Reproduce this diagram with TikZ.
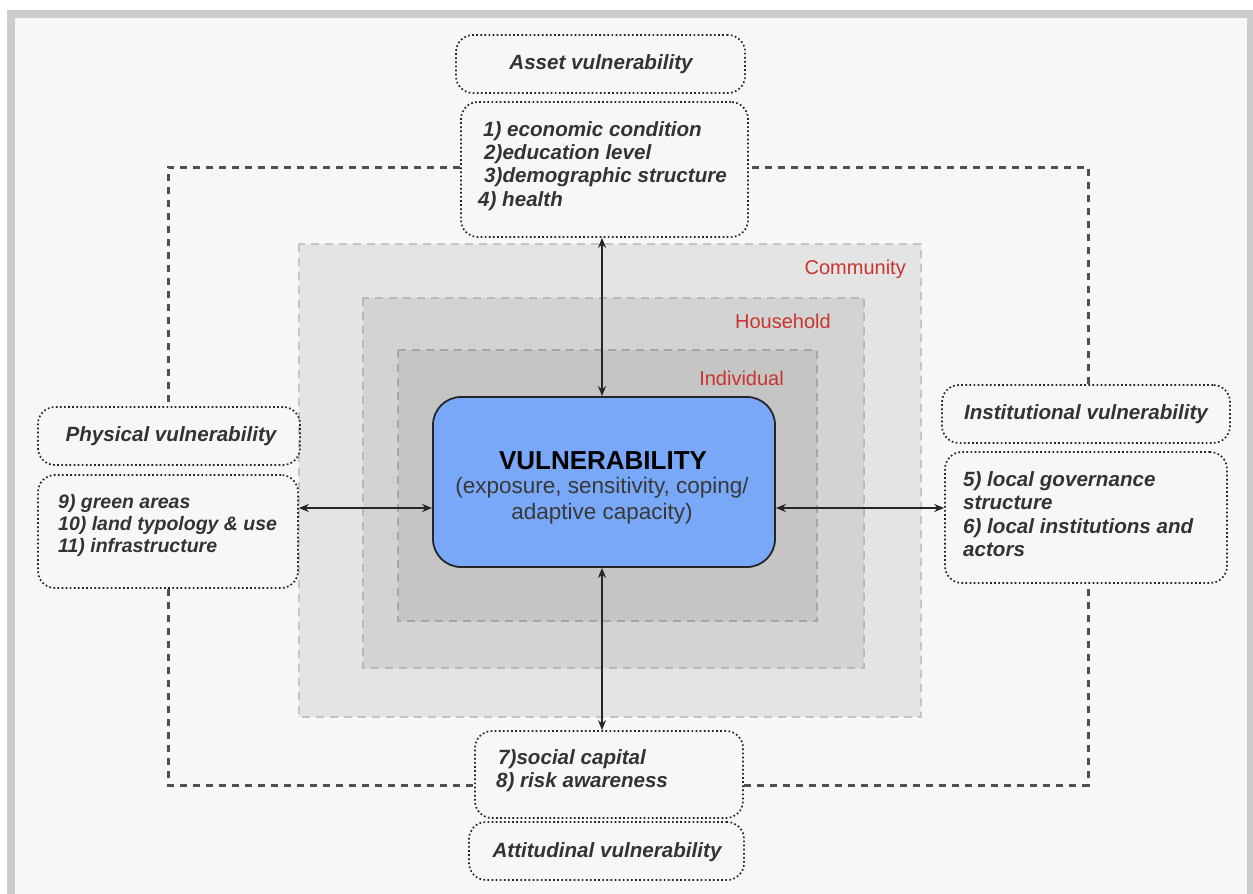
\documentclass[tikz,border=0pt]{standalone}
\usepackage{fontspec}
\newfontfamily\arial{Liberation Sans}
\usetikzlibrary{arrows.meta}
\definecolor{framegray}{HTML}{CCCCCC}
\definecolor{bggray}{HTML}{F7F7F7}
\definecolor{comfill}{HTML}{E4E4E4}
\definecolor{comdraw}{HTML}{C6C6C6}
\definecolor{houfill}{HTML}{D3D3D3}
\definecolor{houdraw}{HTML}{B8B8B8}
\definecolor{indfill}{HTML}{C5C5C5}
\definecolor{inddraw}{HTML}{A6A6A6}
\definecolor{vulnblue}{HTML}{78A8F7}
\definecolor{labelred}{HTML}{C8342F}
\definecolor{loopgray}{HTML}{505050}
\tikzset{
  dotbox/.style={draw=black!85, line width=1.7pt, dash pattern=on 1.7pt off 2.4pt,
    rounded corners=17pt, inner sep=0pt},
  boxtext/.style={font=\arial\bfseries\itshape\fontsize{20.6}{23.3}\selectfont,
    text=black!80, inner sep=0pt},
  layer/.style={line width=2.8pt, dash pattern=on 8pt off 6pt},
  layerlabel/.style={font=\arial\fontsize{20}{24}\selectfont, text=labelred, inner sep=0pt, anchor=base east},
  loopline/.style={draw=loopgray, line width=3pt, dash pattern=on 7pt off 6pt},
  biarrow/.style={draw=black!85, line width=1.8pt,
    {Stealth[length=10pt,width=8pt]}-{Stealth[length=10pt,width=8pt]}}
}
\begin{document}
\begin{tikzpicture}[x=1pt,y=-1pt]
\useasboundingbox (0,0) rectangle (1253,894);
% frame
\fill[white] (0,0) rectangle (1253,894);
\fill[framegray] (7,10) rectangle (1253,894);
\fill[bggray] (15,18) rectangle (1247,894);
% layers
\draw[layer, draw=comdraw, fill=comfill] (299,244) rectangle (921,717);
\draw[layer, draw=houdraw, fill=houfill] (363,298) rectangle (864,668);
\draw[layer, draw=inddraw, fill=indfill] (398,350) rectangle (817,621);
\node[layerlabel] (lcom) at (906,274) {Community};
\node[layerlabel] (lhou) at (831,328) {Household};
\node[layerlabel] (lind) at (784,385) {Individual};
% central box
\node[draw=black!85, line width=1.8pt, fill=vulnblue, rounded corners=28pt,
  minimum width=342pt, minimum height=170pt, inner sep=0pt] (vuln) at (604,482) {};
\node[font=\arial\bfseries\fontsize{26}{30}\selectfont, inner sep=0pt] (vt) at (603,461) {VULNERABILITY};
\node[font=\arial\fontsize{22.5}{26}\selectfont, text=black!78, align=center, inner sep=0pt] (vs) at (602,501)
  {(exposure, sensitivity, coping/\\adaptive capacity)};
% asset
\node[dotbox, minimum width=289pt, minimum height=58pt] (asset) at (600.5,64) {};
\node[boxtext] (assett) at (601,64) {Asset vulnerability};
\node[dotbox, minimum width=287pt, minimum height=135pt] (assetitems) at (604.5,169.5) {};
\node[boxtext, align=left, anchor=west] (assetit) at (478,166)
  {\hspace*{5pt}1) economic condition\\\hspace*{6pt}2)education level\\\hspace*{6pt}3)demographic structure\\4) health};
% physical
\node[dotbox, minimum width=262pt, minimum height=58pt] (phys) at (169,436) {};
\node[boxtext] (physt) at (171,436) {Physical vulnerability};
\node[dotbox, minimum width=260pt, minimum height=113pt] (physitems) at (168,531.5) {};
\node[boxtext, align=left, anchor=west, font=\arial\bfseries\itshape\fontsize{19.5}{22}\selectfont] (physit) at (58,525)
  {9) green areas\\10) land typology \& use\\11) infrastructure};
% institutional
\node[dotbox, minimum width=288pt, minimum height=58pt] (inst) at (1086,414) {};
\node[boxtext] (instt) at (1086,414) {Institutional vulnerability};
\node[dotbox, minimum width=282pt, minimum height=131pt] (institems) at (1086,517.5) {};
\node[boxtext, align=left, anchor=west] (instit) at (963,514)
  {5) local governance\\structure\\6) local institutions and\\actors};
% social / attitudinal
\node[dotbox, minimum width=268pt, minimum height=87pt] (social) at (609,774.5) {};
\node[boxtext, align=left, anchor=west] (socit) at (496,771)
  {\hspace*{2pt}7)social capital\\8) risk awareness};
\node[dotbox, minimum width=275pt, minimum height=58pt] (att) at (606.5,851) {};
\node[boxtext] (attt) at (607,852) {Attitudinal vulnerability};
% loop corners
\coordinate (c1) at (168,167);
\coordinate (c2) at (1088,167);
\coordinate (c3) at (1088,785);
\coordinate (c4) at (168,785);
\draw[loopline] (assetitems.west |- c1) -- (c1) -- (c1 |- phys.north);
\draw[loopline] (physitems.south -| c4) -- (c4) -- (social.west |- c4);
\draw[loopline] (social.east |- c3) -- (c3) -- (c3 |- institems.south);
\draw[loopline] (inst.north -| c2) -- (c2) -- (assetitems.east |- c2);
% arrows
\coordinate (ay) at (0,508);
\coordinate (ax) at (602,0);
\draw[biarrow] (assetitems.south -| ax) -- (vuln.north -| ax);
\draw[biarrow] (vuln.south -| ax) -- (social.north -| ax);
\draw[biarrow] (physitems.east |- ay) -- (vuln.west |- ay);
\draw[biarrow] (vuln.east |- ay) -- (institems.west |- ay);
\end{tikzpicture}
\end{document}
